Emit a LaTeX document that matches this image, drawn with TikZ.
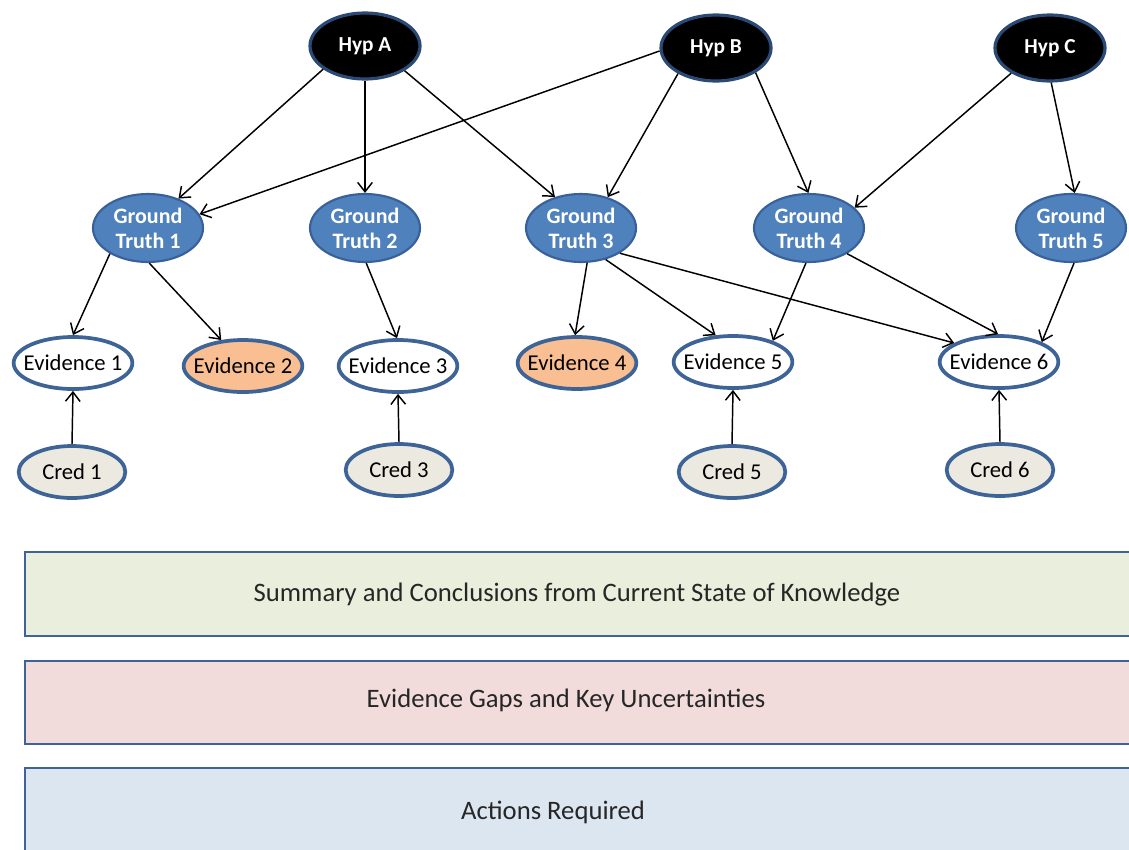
\documentclass[tikz,border=0pt]{standalone}
\usepackage{fontspec}
\setmainfont{Carlito}
\usetikzlibrary{arrows.meta,shapes.geometric}
\definecolor{bord}{HTML}{3E6497}
\definecolor{hypbord}{HTML}{2A4A75}
\definecolor{gtfill}{HTML}{4F81BD}
\definecolor{gtbord}{HTML}{38609A}
\definecolor{orangefill}{HTML}{F9BE91}
\definecolor{credfill}{HTML}{ECEAE0}
\definecolor{greenfill}{HTML}{EAEFDD}
\definecolor{pinkfill}{HTML}{F2DCDB}
\definecolor{bluefill}{HTML}{DCE6F1}
\tikzset{
  hyp/.style={ellipse, fill=black, draw=hypbord, line width=2.4pt, minimum width=82.5pt, minimum height=49.5pt, inner sep=0pt, text=white, font=\fontsize{16}{18}\selectfont\bfseries},
  gt/.style={ellipse, fill=gtfill, draw=gtbord, line width=1.6pt, minimum width=82.5pt, minimum height=51pt, inner xsep=-20pt, inner ysep=0pt, text=white, align=center, font=\fontsize{16.5}{18.75}\selectfont\bfseries},
  ev/.style={ellipse, fill=white, draw=bord, line width=2.8pt, minimum width=89pt, minimum height=39pt, inner xsep=-25pt, inner ysep=0pt, font=\fontsize{17}{18}\selectfont},
  evo/.style={ev, fill=orangefill},
  cred/.style={ellipse, fill=credfill, draw=bord, line width=2.8pt, minimum width=80pt, minimum height=39pt, inner xsep=-10pt, inner ysep=0pt, font=\fontsize{17}{18}\selectfont},
  band/.style={draw=bord, line width=2.2pt},
  bandtext/.style={font=\fontsize{20}{24}\selectfont, text=black!85},
  edge/.style={line width=1.1pt, -{Straight Barb[length=7pt,width=11pt,line width=1.1pt]}},
}
\begin{document}
\begin{tikzpicture}[x=0.75pt,y=-0.75pt]
\clip (0,0) rectangle (1129,850);
\fill[white] (0,0) rectangle (1129,850);

% bands
\draw[band, fill=greenfill] (25,552) rectangle (1160,636);
\draw[band, fill=pinkfill] (25,661) rectangle (1160,744);
\draw[band, fill=bluefill] (25,768) rectangle (1160,880);
\node[bandtext] (b1) at (577,595) {Summary and Conclusions from Current State of Knowledge};
\node[bandtext] (b2) at (566,700) {Evidence Gaps and Key Uncertainties};
\node[bandtext] (b3) at (553,812) {Actions Required};

% hypotheses
\node[hyp] (hA) at (365,46) {Hyp A};
\node[hyp] (hB) at (716,48) {Hyp B};
\node[hyp] (hC) at (1050,48) {Hyp C};

% ground truths
\node[gt] (g1) at (148,228) {Ground\\Truth 1};
\node[gt] (g2) at (365,228) {Ground\\Truth 2};
\node[gt] (g3) at (581,228) {Ground\\Truth 3};
\node[gt] (g4) at (809,228) {Ground\\Truth 4};
\node[gt] (g5) at (1071,228) {Ground\\Truth 5};

% evidence
\node[ev] (e1) at (73,363) {Evidence 1};
\node[evo] (e2) at (243,366) {Evidence 2};
\node[ev] (e3) at (398,366) {Evidence 3};
\node[evo] (e4) at (577,363) {Evidence 4};
\node[ev] (e5) at (733,362) {Evidence 5};
\node[ev] (e6) at (999,362) {Evidence 6};

% credibility
\node[cred] (c1) at (72,472) {Cred 1};
\node[cred] (c3) at (399,470) {Cred 3};
\node[cred] (c5) at (732,472) {Cred 5};
\node[cred] (c6) at (1000,470) {Cred 6};

% edges from hypotheses
\draw[edge] (hA.209) -- (g1.44);
\draw[edge] (hA.270) -- (g2.90);
\draw[edge] (hA.328) -- (g3.130);
\draw[edge] (hB.183) -- (g1.15);
\draw[edge] (hB.214) -- (g3.49);
\draw[edge] (hB.328) -- (g4.91);
\draw[edge] (hC.213) -- (g4.24);
\draw[edge] (hC.272) -- (g5.84);

% edges from ground truths
\draw[edge] (g1.214) -- (e1.90);
\draw[edge] (g1.272) -- (e2.130);
\draw[edge] (g2.272) -- (e3.92);
\draw[edge] (g3.280) -- (e4.94);
\draw[edge] (g3.308) -- (e5.123);
\draw[edge] (g3.327) -- (e6.157);
\draw[edge] (g4.265) -- (e5.28);
\draw[edge] (g4.326) -- (e6.92);
\draw[edge] (g5.275) -- (e6.25);

% credibility edges
\draw[edge] (c1.90) -- (e1.270);
\draw[edge] (c3.90) -- (e3.270);
\draw[edge] (c5.90) -- (e5.270);
\draw[edge] (c6.90) -- (e6.270);
\end{tikzpicture}
\end{document}
